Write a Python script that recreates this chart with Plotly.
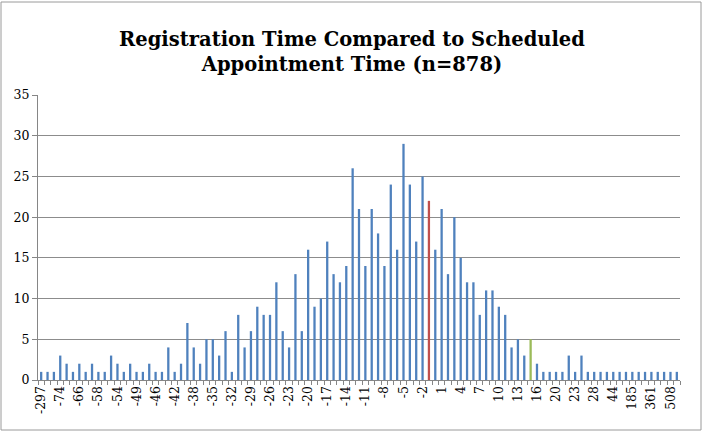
import plotly.graph_objects as go

categories = [
    "-297", "-120", "-90", "-74", "-71", "-68", "-66", "-62", "-60", "-58",
    "-56", "-55", "-54", "-52", "-50", "-49", "-48", "-47", "-46", "-45",
    "-44", "-42", "-41", "-40", "-38", "-37", "-36", "-35", "-34", "-33",
    "-32", "-31", "-30", "-29", "-28", "-27", "-26", "-25", "-24", "-23",
    "-22", "-21", "-20", "-19", "-18", "-17", "-16", "-15", "-14", "-13",
    "-12", "-11", "-10", "-9", "-8", "-7", "-6", "-5", "-4", "-3",
    "-2", "-1", "0", "1", "2", "3", "4", "5", "6", "7",
    "8", "9", "10", "11", "12", "13", "14", "15", "16", "17",
    "18", "20", "21", "22", "23", "24", "25", "28", "30", "35",
    "44", "60", "120", "185", "240", "300", "361", "400", "450", "508",
    "600",
]

counts = [
    1, 1, 1, 3, 2, 1, 2, 1, 2, 1,
    1, 3, 2, 1, 2, 1, 1, 2, 1, 1,
    4, 1, 2, 7, 4, 2, 5, 5, 3, 6,
    1, 8, 4, 6, 9, 8, 8, 12, 6, 4,
    13, 6, 16, 9, 10, 17, 13, 12, 14, 26,
    21, 14, 21, 18, 14, 24, 16, 29, 24, 17,
    25, 22, 16, 21, 13, 20, 15, 12, 12, 8,
    11, 11, 9, 8, 4, 5, 3, 5, 2, 1,
    1, 1, 1, 3, 1, 3, 1, 1, 1, 1,
    1, 1, 1, 1, 1, 1, 1, 1, 1, 1,
    1,
]

highlight = {"-1": "#C0504D", "15": "#9BBB59"}
base_color = "#4F81BD"
colors = [highlight.get(c, base_color) for c in categories]

tick_text = [c if i % 3 == 0 else "" for i, c in enumerate(categories)]

title_text = "Registration Time Compared to Scheduled<br>Appointment Time (n=878)"

fig = go.Figure(
    go.Bar(
        x=categories,
        y=counts,
        marker=dict(color=colors, line=dict(width=0)),
    )
)

fig.update_layout(
    width=704,
    height=440,
    margin=dict(l=38, r=24, t=95, b=60),
    paper_bgcolor="white",
    plot_bgcolor="white",
    bargap=0.64,
    showlegend=False,
    title=dict(
        text=title_text,
        x=0.5,
        xanchor="center",
        xref="container",
        yref="container",
        y=1 - 46.0 / 440,
        yanchor="middle",
        font=dict(family="DejaVu Serif", size=19.5, color="black", weight="bold"),
    ),
    font=dict(family="DejaVu Serif", size=12.5, color="black"),
)

fig.update_xaxes(
    type="category",
    tickmode="array",
    tickvals=categories,
    ticktext=tick_text,
    tickangle=-90,
    tickson="boundaries",
    ticks="outside",
    ticklen=4,
    tickcolor="#868686",
    showline=True,
    linecolor="#868686",
    linewidth=1,
    showgrid=False,
    tickfont=dict(family="DejaVu Serif", size=12.5, color="black"),
)

fig.update_yaxes(
    range=[0, 35],
    dtick=5,
    showgrid=True,
    gridcolor="#8C8C8C",
    gridwidth=1,
    showline=True,
    linecolor="#868686",
    linewidth=1,
    ticks="outside",
    ticklen=5,
    tickcolor="#868686",
    zeroline=False,
    tickfont=dict(family="DejaVu Serif", size=12.5, color="black"),
)

fig.add_shape(
    type="rect", xref="paper", yref="paper",
    x0=-37.0 / 642, x1=1 + 21.0 / 642,
    y0=-50.0 / 285, y1=1 + 93.0 / 285,
    line=dict(color="#9A9A9A", width=1),
)

fig.write_html("out.html")
